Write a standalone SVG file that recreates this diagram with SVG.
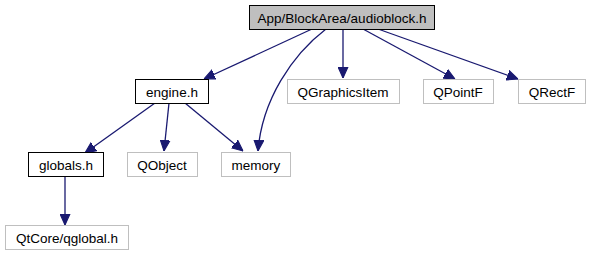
<svg xmlns="http://www.w3.org/2000/svg" width="591" height="256" viewBox="0 0 591 256">
<defs>
<style>
.n rect{fill:#fff;stroke:#000;stroke-width:1}
.ext rect{stroke:#bfbfbf}
.root rect{fill:#bfbfbf}
.n text{font-family:"Liberation Sans",Arial,sans-serif;font-size:13.5px;text-anchor:middle;fill:#000}
.e path{fill:none;stroke:#191970;stroke-width:1.3}
</style>
<marker id="ah" viewBox="0 0 10 10" refX="10" refY="5" markerWidth="11" markerHeight="11" markerUnits="userSpaceOnUse" orient="auto">
<path d="M0,0.5 L10,5 L0,9.5 z" fill="#191970" stroke="#191970"/>
</marker>
</defs>
<rect width="591" height="256" fill="#fff"/>
<g class="e">
<path d="M312,29 L204,79" marker-end="url(#ah)"/>
<path d="M326,29 C292,55 262,100 258,151" marker-end="url(#ah)"/>
<path d="M343,29 L343,78" marker-end="url(#ah)"/>
<path d="M363,29 L455,79" marker-end="url(#ah)"/>
<path d="M378,29 L518,79" marker-end="url(#ah)"/>
<path d="M155,103 L85,153" marker-end="url(#ah)"/>
<path d="M169,103 L164,151" marker-end="url(#ah)"/>
<path d="M185,103 L243,151" marker-end="url(#ah)"/>
<path d="M65,176 L65,225" marker-end="url(#ah)"/>
</g>
<g id="root" class="n root"><rect x="249.5" y="5.5" width="185" height="24"/><text x="342" y="22.5">App/BlockArea/audioblock.h</text></g>
<g id="engine" class="n"><rect x="135.5" y="79.5" width="73" height="24"/><text x="172" y="96.5">engine.h</text></g>
<g id="qgraphicsitem" class="n ext"><rect x="287.5" y="79.5" width="112" height="24"/><text x="343" y="96.5">QGraphicsItem</text></g>
<g id="qpointf" class="n ext"><rect x="423.5" y="79.5" width="70" height="24"/><text x="458" y="96.5">QPointF</text></g>
<g id="qrectf" class="n ext"><rect x="518.5" y="79.5" width="67" height="24"/><text x="552" y="96.5">QRectF</text></g>
<g id="globals" class="n"><rect x="28.5" y="152.5" width="75" height="24"/><text x="66" y="169.5">globals.h</text></g>
<g id="qobject" class="n ext"><rect x="127.5" y="152.5" width="70" height="24"/><text x="162" y="169.5">QObject</text></g>
<g id="memory" class="n ext"><rect x="221.5" y="152.5" width="69" height="24"/><text x="256" y="169.5">memory</text></g>
<g id="qglobal" class="n ext"><rect x="5.5" y="225.5" width="123" height="24"/><text x="67" y="242.5">QtCore/qglobal.h</text></g>
</svg>
